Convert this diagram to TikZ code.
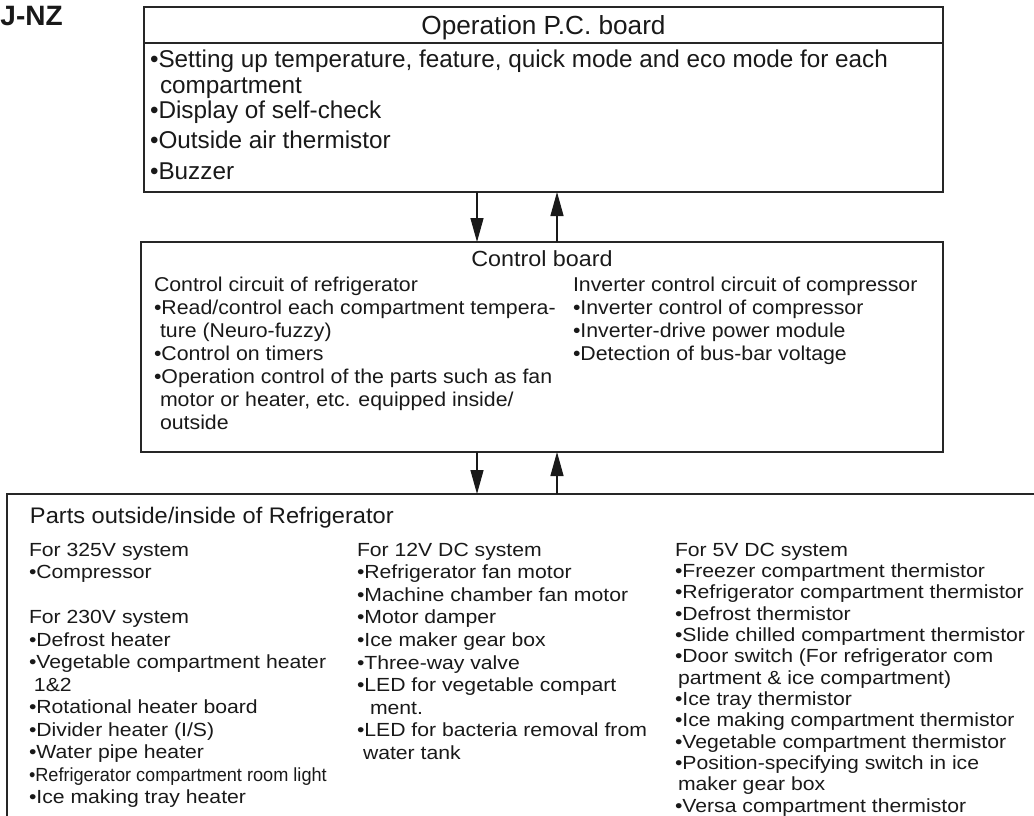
\documentclass[tikz,border=0pt]{standalone}
\usepackage{fontspec}
\setmainfont{Liberation Sans}
\newfontfamily\boardfont{Liberation Sans}
\newfontfamily\ctlfont[FakeStretch=1.065]{Liberation Sans}
\newfontfamily\partfont[FakeStretch=1.115]{Liberation Sans}
\newfontfamily\parthead[FakeStretch=1.05]{Liberation Sans}
\newfontfamily\partnarrow[FakeStretch=0.955]{Liberation Sans}
\usetikzlibrary{arrows.meta}

\tikzset{
  frame/.style={draw=black!85, line width=1.3pt, inner sep=0pt, outer sep=0pt},
  link/.style={draw=black!90, line width=1.3pt, -{Triangle[length=24pt,width=13pt]}},
  txt/.style={anchor=base west, inner sep=0pt, outer sep=0pt, text=black!90},
  toptxt/.style={txt, font=\boardfont\fontsize{24.3}{28}\selectfont},
  ctltxt/.style={txt, font=\ctlfont\fontsize{20}{24}\selectfont},
  parttxt/.style={txt, font=\partfont\fontsize{19}{22}\selectfont},
}

\begin{document}
\begin{tikzpicture}[x=1pt, y=-1pt]
\useasboundingbox (0,0) rectangle (1034,816);

% model tag at the page corner
\node[txt, font=\bfseries\fontsize{28}{30}\selectfont] (tag) at (0.5,26) {J-NZ};

% ---------- operation board ----------
\node[frame, draw, anchor=north west, minimum width=799pt, minimum height=185pt] (opboard) at (144,7) {};
\coordinate (hdr) at (0,43);
\draw[frame] (opboard.west |- hdr) -- (opboard.east |- hdr);
\node[txt, anchor=base, font=\boardfont\fontsize{26.2}{30}\selectfont] (optitle) at (543.5,35) {Operation P.C. board};
\node[toptxt] (op1) at (150,68)  {•Setting up temperature, feature, quick mode and eco mode for each};
\node[toptxt] (op2) at (160,93)  {compartment};
\node[toptxt] (op3) at (150,118) {•Display of self-check};
\node[toptxt] (op4) at (150,148) {•Outside air thermistor};
\node[toptxt] (op5) at (150,179) {•Buzzer};

% ---------- control board ----------
\node[frame, draw, anchor=north west, minimum width=802pt, minimum height=210pt] (ctl) at (141,242) {};
\node[txt, anchor=base, font=\ctlfont\fontsize{21.9}{26}\selectfont] (ctltitle) at (542,266) {Control board};
\node[ctltxt] (cl1) at (154,291) {Control circuit of refrigerator};
\node[ctltxt] (cl2) at (154,314) {•Read/control each compartment tempera-};
\node[ctltxt] (cl3) at (160,337) {ture (Neuro-fuzzy)};
\node[ctltxt] (cl4) at (154,360) {•Control on timers};
\node[ctltxt] (cl5) at (154,383) {•Operation control of the parts such as fan};
\node[ctltxt] (cl6) at (160,406) {motor or heater, etc. equipped inside/};
\node[ctltxt] (cl7) at (160,429) {outside};
\node[ctltxt] (cr1) at (573,291) {Inverter control circuit of compressor};
\node[ctltxt] (cr2) at (573,314) {•Inverter control of compressor};
\node[ctltxt] (cr3) at (573,337) {•Inverter-drive power module};
\node[ctltxt] (cr4) at (573,360) {•Detection of bus-bar voltage};

% ---------- parts (frame runs past the page edge) ----------
\node[frame, draw, anchor=north west, minimum width=1100pt, minimum height=400pt] (parts) at (7,494) {};
\node[txt, font=\parthead\fontsize{22.5}{26}\selectfont] (parttitle) at (30,523) {Parts outside/inside of Refrigerator};

% 325V / 230V column
\node[parttxt] (pa1)  at (29,556)   {For 325V system};
\node[parttxt] (pa2)  at (29,578.5) {•Compressor};
\node[parttxt] (pa3)  at (29,623.5) {For 230V system};
\node[parttxt] (pa4)  at (29,646)   {•Defrost heater};
\node[parttxt] (pa5)  at (29,668.5) {•Vegetable compartment heater};
\node[parttxt] (pa6)  at (34,691)   {1\&2};
\node[parttxt] (pa7)  at (29,713.5) {•Rotational heater board};
\node[parttxt] (pa8)  at (29,736)   {•Divider heater (I/S)};
\node[parttxt] (pa9)  at (29,758.5) {•Water pipe heater};
\node[parttxt, font=\partnarrow\fontsize{19}{22}\selectfont] (pa10) at (29,781) {•Refrigerator compartment room light};
\node[parttxt] (pa11) at (29,803.5) {•Ice making tray heater};

% 12V DC column
\node[parttxt] (pb1) at (357,556)   {For 12V DC system};
\node[parttxt] (pb2) at (357,578.6) {•Refrigerator fan motor};
\node[parttxt] (pb3) at (357,601.2) {•Machine chamber fan motor};
\node[parttxt] (pb4) at (357,623.8) {•Motor damper};
\node[parttxt] (pb5) at (357,646.4) {•Ice maker gear box};
\node[parttxt] (pb6) at (357,669)   {•Three-way valve};
\node[parttxt] (pb7) at (357,691.6) {•LED for vegetable compart};
\node[parttxt] (pb8) at (370,714.2) {ment.};
\node[parttxt] (pb9) at (357,736.8) {•LED for bacteria removal from};
\node[parttxt] (pb10) at (363,759.4) {water tank};

% 5V DC column
\node[parttxt] (pc1)  at (675,556)    {For 5V DC system};
\node[parttxt] (pc2)  at (675,577.33) {•Freezer compartment thermistor};
\node[parttxt] (pc3)  at (675,598.67) {•Refrigerator compartment thermistor};
\node[parttxt] (pc4)  at (675,620)    {•Defrost thermistor};
\node[parttxt] (pc5)  at (675,641.33) {•Slide chilled compartment thermistor};
\node[parttxt] (pc6)  at (675,662.67) {•Door switch (For refrigerator com};
\node[parttxt] (pc7)  at (678,684)    {partment \& ice compartment)};
\node[parttxt] (pc8)  at (675,705.33) {•Ice tray thermistor};
\node[parttxt] (pc9)  at (675,726.67) {•Ice making compartment thermistor};
\node[parttxt] (pc10) at (675,748)    {•Vegetable compartment thermistor};
\node[parttxt] (pc11) at (675,769.33) {•Position-specifying switch in ice};
\node[parttxt] (pc12) at (678,790.67) {maker gear box};
\node[parttxt] (pc13) at (675,812)    {•Versa compartment thermistor};

% ---------- signal arrows ----------
\coordinate (dnx) at (477,0);
\coordinate (upx) at (557,0);
\draw[link] (opboard.south -| dnx) -- (ctl.north -| dnx);
\draw[link] (ctl.north -| upx) -- (opboard.south -| upx);
\draw[link] (ctl.south -| dnx) -- (parts.north -| dnx);
\draw[link] (parts.north -| upx) -- (ctl.south -| upx);
\end{tikzpicture}
\end{document}
